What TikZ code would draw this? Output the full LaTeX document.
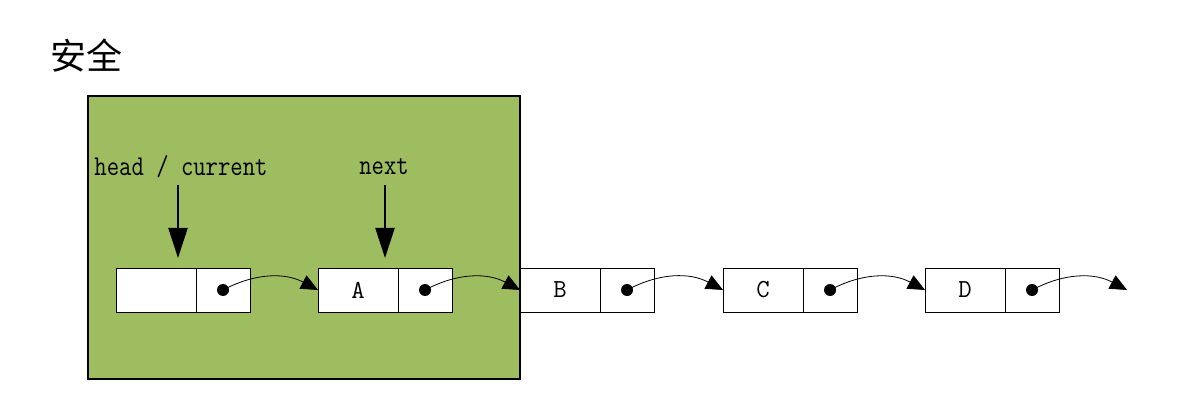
\documentclass[tikz,border=0pt]{standalone}
\usepackage{fontspec}
\newfontfamily\cjk{Noto Sans CJK SC}
\usetikzlibrary{arrows.meta,positioning,calc}
\definecolor{safegreen}{RGB}{158,188,96}
\begin{document}
\begin{tikzpicture}[x=1pt,y=-1pt,
  datapart/.style={draw,line width=0.9pt,fill=white,minimum width=80pt,minimum height=44pt,inner sep=0pt,outer sep=0pt,anchor=west,font=\ttfamily\fontsize{26}{26}\selectfont},
  ptrpart/.style={draw,line width=0.9pt,fill=white,minimum width=54pt,minimum height=44pt,inner sep=0pt,outer sep=0pt,anchor=west},
  dot/.style={circle,fill=black,minimum size=12pt,inner sep=0pt},
  conn/.style={line width=0.8pt,-{Triangle[length=17pt,width=15pt]}},
  varrow/.style={line width=2.2pt,-{Triangle[length=30pt,width=19pt]}},
  lab/.style={font=\ttfamily\fontsize{24}{24}\selectfont,inner sep=0pt}]
\useasboundingbox (0,0) rectangle (1177,403);
\node[font=\cjk\fontsize{36}{36}\selectfont,inner sep=0pt] (title) at (86,56) {安全};
\draw[line width=2pt,fill=safegreen] (88,96) rectangle (520,379);
% nodes
\node[datapart] (d1) at (116,290) {};
\node[ptrpart] (p1) at (d1.east) {};
\node[datapart] (dA) at (318,290) {A};
\node[ptrpart] (pA) at (dA.east) {};
\node[datapart] (dB) at (520,290) {B};
\node[ptrpart] (pB) at (dB.east) {};
\node[datapart] (dC) at (723,290) {C};
\node[ptrpart] (pC) at (dC.east) {};
\node[datapart] (dD) at (925,290) {D};
\node[ptrpart] (pD) at (dD.east) {};
\foreach \p in {1,A,B,C,D} {\node[dot] (q\p) at (p\p.center) {};}
\coordinate (end) at (1127,290);
% connectors
\draw[conn] (q1.center) to[bend left=28] (dA.west);
\draw[conn] (qA.center) to[bend left=28] (dB.west);
\draw[conn] (qB.center) to[bend left=28] (dC.west);
\draw[conn] (qC.center) to[bend left=28] (dD.west);
\draw[conn] (qD.center) to[bend left=28] (end);
% labels
\node[lab] (lh) at (181,167) {\scalebox{1}[1.2]{head / current}};
\node[lab] (ln) at (384,167) {\scalebox{1}[1.2]{next}};
\draw[varrow,shorten <=18pt,shorten >=10pt] ([xshift=-3pt]lh.center) -- ([xshift=-3pt]lh.center |- d1.north);
\draw[varrow,shorten <=18pt,shorten >=10pt] ([xshift=1pt]ln.center) -- ([xshift=1pt]ln.center |- dA.north);
\end{tikzpicture}
\end{document}
